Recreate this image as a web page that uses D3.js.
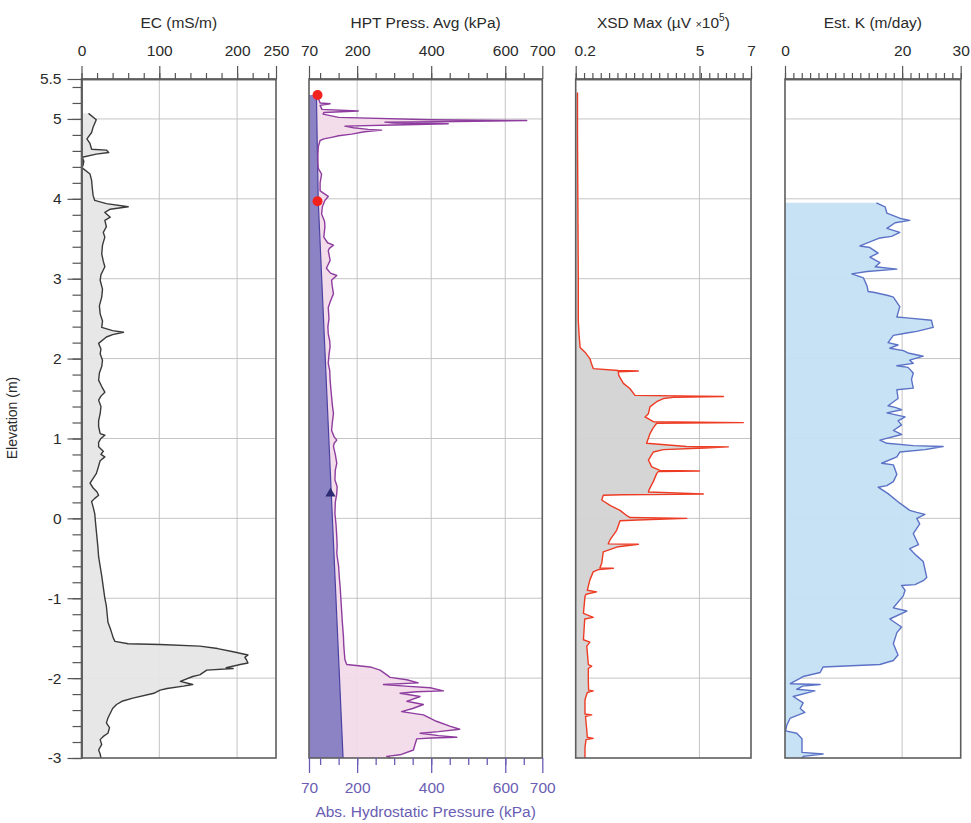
<!DOCTYPE html>
<html lang="en">
<head>
<meta charset="UTF-8">
<title>Direct-push log</title>
<script src="https://d3js.org/d3.v7.min.js"></script>
<style>
  body { margin: 0; background: #fff; }
  text { font-family: "Liberation Sans", Arial, sans-serif; font-size: 15.5px; fill: #2a2a2a; }
</style>
</head>
<body>
<script>
// elevation (m), value
const ecProfile = [[5.07,9],[4.99,19],[4.9,15],[4.83,13],[4.75,7],[4.69,11],[4.62,13],[4.61,32],[4.58,35],[4.56,19],[4.52,1],[4.47,3],[4.42,2],[4.39,0.5],[4.31,11],[4.23,13],[4.12,14],[4.04,15],[3.98,17],[3.94,32],[3.9,60],[3.87,37],[3.83,30],[3.77,37],[3.73,30],[3.65,32],[3.58,28],[3.52,30],[3.42,27],[3.31,26],[3.22,28],[3.15,30],[3.05,25],[2.98,24],[2.87,27],[2.77,26],[2.66,23],[2.56,24],[2.47,27],[2.39,26],[2.35,40],[2.33,54],[2.3,40],[2.27,32],[2.19,22],[2.12,25],[2.06,24],[1.98,27],[1.9,26],[1.82,23],[1.73,22],[1.65,26],[1.58,30],[1.53,25],[1.48,22],[1.4,25],[1.31,24],[1.22,22],[1.15,22],[1.06,24],[1.04,30],[1.0,25],[0.95,22],[0.895,22],[0.84,28],[0.8,25],[0.77,30],[0.72,24],[0.69,23],[0.62,21],[0.56,19],[0.5,15],[0.44,11],[0.38,15],[0.33,20],[0.29,22],[0.25,17],[0.21,13],[0.14,15],[0.06,17],[-0.05,18],[-0.15,19],[-0.25,20],[-0.35,21],[-0.48,22],[-0.6,24],[-0.72,26],[-0.86,28],[-1.0,30],[-1.1,32],[-1.2,33],[-1.3,34],[-1.38,37],[-1.44,39],[-1.5,41],[-1.54,43],[-1.57,60],[-1.58,101],[-1.6,152],[-1.63,175],[-1.67,195],[-1.71,214],[-1.74,210],[-1.77,212],[-1.81,214],[-1.83,204],[-1.87,186],[-1.88,195],[-1.9,161],[-1.96,152],[-1.98,143],[-2.04,127],[-2.08,143],[-2.1,131],[-2.13,110],[-2.15,101],[-2.19,93],[-2.25,66],[-2.29,52],[-2.33,45],[-2.38,40],[-2.44,37],[-2.5,34],[-2.56,32],[-2.62,36],[-2.69,34],[-2.73,28],[-2.77,24],[-2.83,26],[-2.9,22],[-2.95,24],[-3.0,25]];

const hptProfile = [[5.3,93],[5.25,96],[5.2,100],[5.19,127],[5.17,100],[5.12,105],[5.1,203],[5.08,110],[5.06,108],[5.02,150],[4.99,400],[4.98,658],[4.965,420],[4.96,275],[4.95,300],[4.94,446],[4.925,300],[4.91,167],[4.89,190],[4.87,230],[4.86,266],[4.84,220],[4.81,185],[4.79,150],[4.77,131],[4.75,110],[4.73,100],[4.65,95],[4.55,94],[4.45,94],[4.38,95],[4.31,104],[4.2,100],[4.1,100],[4.03,122],[3.98,113],[3.9,106],[3.81,104],[3.72,112],[3.65,113],[3.52,110],[3.45,120],[3.42,136],[3.38,125],[3.35,122],[3.28,125],[3.23,127],[3.13,117],[3.07,128],[3.04,145],[3.0,135],[2.98,131],[2.9,133],[2.81,136],[2.72,128],[2.64,122],[2.5,124],[2.4,121],[2.31,122],[2.22,126],[2.15,127],[2.05,124],[1.94,122],[1.85,126],[1.73,127],[1.62,129],[1.52,131],[1.42,133],[1.31,136],[1.2,133],[1.1,131],[1.02,138],[0.98,145],[0.94,138],[0.9,136],[0.8,141],[0.69,145],[0.6,141],[0.48,140],[0.4,146],[0.31,145],[0.2,141],[0.06,140],[-0.08,143],[-0.23,145],[-0.35,146],[-0.44,145],[-0.6,150],[-0.75,152],[-0.85,154],[-1.0,156],[-1.15,158],[-1.3,160],[-1.48,163],[-1.6,164],[-1.77,167],[-1.83,172],[-1.86,235],[-1.9,262],[-1.96,280],[-1.99,289],[-2.02,334],[-2.06,365],[-2.08,271],[-2.1,330],[-2.12,397],[-2.16,433],[-2.17,360],[-2.19,316],[-2.23,370],[-2.29,334],[-2.33,379],[-2.38,350],[-2.42,320],[-2.46,379],[-2.54,414],[-2.6,450],[-2.64,477],[-2.67,420],[-2.69,370],[-2.72,420],[-2.74,469],[-2.75,400],[-2.76,361],[-2.85,355],[-2.9,352],[-2.96,316],[-2.98,280],[-3.0,290]];

const hydroProfile = [[5.3,90],[3.97,95],[-3,162]];
const hptDots = [[5.3,93],[3.97,93]];
const hptTriangle = [[0.31,128]];

const xsdProfile = [[5.33,0.27],[4.8,0.27],[4.2,0.28],[3.6,0.29],[3.0,0.3],[2.73,0.3],[2.48,0.3],[2.3,0.33],[2.14,0.37],[2.08,0.56],[2.0,0.75],[1.93,0.82],[1.875,0.88],[1.85,1.85],[1.845,2.63],[1.835,1.85],[1.79,1.87],[1.69,2.05],[1.625,2.3],[1.54,2.5],[1.525,5.93],[1.515,4.0],[1.5,3.6],[1.46,3.34],[1.395,3.08],[1.31,3.02],[1.27,2.89],[1.21,3.21],[1.198,6.7],[1.19,3.34],[1.13,3.2],[1.06,3.08],[0.94,2.95],[0.9,4.5],[0.895,6.12],[0.88,5.2],[0.86,3.6],[0.83,3.21],[0.73,3.02],[0.645,3.15],[0.6,3.47],[0.593,5.0],[0.585,3.4],[0.56,3.34],[0.46,3.21],[0.36,3.05],[0.33,3.02],[0.305,5.15],[0.295,2.0],[0.29,1.27],[0.23,1.21],[0.16,1.55],[0.1,1.92],[0.03,2.2],[0.01,2.31],[0.0,4.51],[-0.02,2.6],[-0.03,1.92],[-0.15,1.79],[-0.27,1.53],[-0.32,1.46],[-0.325,2.63],[-0.355,1.85],[-0.42,1.27],[-0.56,1.21],[-0.62,1.14],[-0.625,1.66],[-0.64,1.1],[-0.67,0.88],[-0.77,0.75],[-0.9,0.65],[-0.92,1.01],[-0.95,0.6],[-0.98,0.56],[-1.19,0.5],[-1.24,0.88],[-1.26,0.55],[-1.52,0.5],[-1.55,0.75],[-1.6,0.63],[-1.83,0.69],[-1.85,0.82],[-1.88,0.69],[-2.04,0.69],[-2.15,0.7],[-2.16,0.88],[-2.18,0.65],[-2.27,0.56],[-2.45,0.56],[-2.46,0.82],[-2.48,0.58],[-2.65,0.63],[-2.74,0.65],[-2.755,0.88],[-2.77,0.6],[-2.87,0.56],[-3.0,0.56]];

const kProfile = [[3.95,15.6],[3.9,17.1],[3.82,17.4],[3.75,19.9],[3.73,21.3],[3.7,18.8],[3.63,17.4],[3.58,19.6],[3.53,18.2],[3.51,16.2],[3.41,12.8],[3.39,14.5],[3.32,15.9],[3.27,14.5],[3.2,16.2],[3.15,15.4],[3.12,19.1],[3.09,14],[3.06,11.4],[3.01,13.4],[2.91,14],[2.84,14.2],[2.83,15.1],[2.79,17.6],[2.77,18.5],[2.65,19.6],[2.52,19.1],[2.51,20.8],[2.48,25],[2.39,25.3],[2.34,22.5],[2.32,20.8],[2.29,18.5],[2.2,17.6],[2.17,19.3],[2.13,17.9],[2.1,20.2],[2.07,21],[2.03,23.6],[1.98,21.3],[1.94,21.9],[1.91,19.1],[1.89,21],[1.82,21.9],[1.74,21.6],[1.63,21.9],[1.61,19.1],[1.5,19.3],[1.41,17.6],[1.39,18.8],[1.36,19.9],[1.32,17.4],[1.27,20.5],[1.22,19.3],[1.17,19.9],[1.1,18.5],[1.05,19.9],[0.98,16.2],[0.94,17.4],[0.91,21.9],[0.9,27],[0.86,23.9],[0.83,19.6],[0.77,19.1],[0.69,16.5],[0.67,18.5],[0.55,19.1],[0.46,18.5],[0.41,17.4],[0.39,15.9],[0.31,17.6],[0.19,19.6],[0.1,21.3],[0.075,22.5],[0.05,23.9],[0.0,22.5],[-0.07,23],[-0.19,21.9],[-0.33,22.8],[-0.38,21.3],[-0.47,22.5],[-0.54,23.6],[-0.74,24.2],[-0.78,23.6],[-0.83,22.2],[-0.84,19.9],[-0.9,20.5],[-0.97,20.2],[-1.12,18.5],[-1.16,20.8],[-1.26,17.9],[-1.36,19.9],[-1.43,19.1],[-1.57,18.5],[-1.71,19.3],[-1.78,18.5],[-1.83,16.2],[-1.86,6.5],[-1.93,6],[-1.98,3.1],[-2.07,0.9],[-2.08,6],[-2.1,3],[-2.14,2],[-2.16,5.1],[-2.23,1.4],[-2.31,3.1],[-2.38,2.6],[-2.43,3.4],[-2.5,0.9],[-2.59,0.3],[-2.66,0.1],[-2.69,2],[-2.76,2.9],[-2.93,2.9],[-2.95,6.5],[-2.98,3.1],[-3.0,3]];

// axis ticks
const elevLabels = [5.5, 5, 4, 3, 2, 1, 0, -1, -2, -3];
const elevGrid = [5, 4, 3, 2, 1, 0, -1, -2];
const ecTicks = [0, 100, 200, 250];
const hptTicks = [70, 200, 400, 600, 700];
const xsdTicks = [0.2, 5, 7];
const kTicks = [0, 20, 30];

const W = 971, H = 823;
const FONT = '"Liberation Sans", Arial, sans-serif';
const fmt = d => String(+(+d).toFixed(2));
const svg = d3.select("body").append("svg").attr("width", W).attr("height", H);

const y = d3.scaleLinear().domain([5.5, -3]).range([79, 758]);

const panels = [
  { key: "ec", title: "EC (mS/m)", domain: [0, 250], range: [81.5, 276], ticks: ecTicks,
    minor: d3.range(0, 251, 20), grid: [100, 200], data: ecProfile, base: 0,
    fill: "#e6e6e6", stroke: "#3a3a3a" },
  { key: "hpt", title: "HPT Press. Avg (kPa)", domain: [70, 700], range: [309, 542.3], ticks: hptTicks,
    minor: d3.range(100, 700, 50), grid: [200, 400, 600], data: hptProfile, base: 70,
    fill: "#f3dbea", stroke: "#8e3d9f" },
  { key: "xsd", title: null, domain: [0.2, 7], range: [575.7, 751], ticks: xsdTicks,
    minor: d3.range(0, 22).map(i => 0.2 + i * 6.8 / 21), grid: [5], data: xsdProfile, base: 0.2,
    fill: "#d3d3d3", stroke: "#ee3b24" },
  { key: "k", title: "Est. K (m/day)", domain: [0, 30], range: [785, 960.7], ticks: kTicks,
    minor: d3.range(0, 22).map(i => i * 30 / 21), grid: [20], data: kProfile, base: 0,
    fill: "#c4e0f3", stroke: "#5b72c6" }
];

const defs = svg.append("defs");

function styleTicks(sel, color) {
  sel.selectAll(".tick text").style("font-size", "15.5px").style("fill", color)
    .style("font-family", FONT);
}

panels.forEach(p => {
  const x = d3.scaleLinear().domain(p.domain).range(p.range);
  p.x = x;
  const g = svg.append("g");
  const [x0, x1] = p.range;

  defs.append("clipPath").attr("id", "clip-" + p.key)
    .append("rect").attr("x", x0).attr("y", y(5.5)).attr("width", x1 - x0).attr("height", y(-3) - y(5.5));

  // grid
  g.selectAll(".hg").data(elevGrid).join("line")
    .attr("x1", x0).attr("x2", x1).attr("y1", d => y(d)).attr("y2", d => y(d))
    .attr("stroke", "#c4c4c4").attr("stroke-width", 1);
  g.selectAll(".vg").data(p.grid).join("line")
    .attr("x1", d => x(d)).attr("x2", d => x(d)).attr("y1", y(5.5)).attr("y2", y(-3))
    .attr("stroke", "#c4c4c4").attr("stroke-width", 1);

  const plot = g.append("g").attr("clip-path", `url(#clip-${p.key})`);

  plot.append("path").datum(p.data)
    .attr("d", d3.area().y(d => y(d[0])).x0(x(p.base)).x1(d => x(d[1])))
    .attr("fill", p.fill).attr("opacity", 0.95);

  if (p.key === "hpt") {
    plot.append("path").datum(hydroProfile)
      .attr("d", d3.area().y(d => y(d[0])).x0(x(70)).x1(d => x(d[1])))
      .attr("fill", "#8b83c3");
    plot.append("path").datum(hydroProfile)
      .attr("d", d3.line().y(d => y(d[0])).x(d => x(d[1])))
      .attr("fill", "none").attr("stroke", "#4b41a3").attr("stroke-width", 1.2);
  }

  plot.append("path").datum(p.data)
    .attr("d", d3.line().y(d => y(d[0])).x(d => x(d[1])))
    .attr("fill", "none").attr("stroke", p.stroke).attr("stroke-width", 1.4)
    .attr("stroke-linejoin", "round");

  if (p.key === "hpt") {
    g.selectAll(".dot").data(hptDots).join("circle")
      .attr("cx", d => x(d[1])).attr("cy", d => y(d[0])).attr("r", 5)
      .attr("fill", "#f2221e");
    g.selectAll(".tri").data(hptTriangle).join("path")
      .attr("transform", d => `translate(${x(d[1])},${y(d[0])})`)
      .attr("d", d3.symbol().type(d3.symbolTriangle).size(45))
      .attr("fill", "#2b2a72");
  }

  // border
  g.append("rect").attr("x", x0).attr("y", y(5.5)).attr("width", x1 - x0).attr("height", y(-3) - y(5.5))
    .attr("fill", "none").attr("stroke", "#5e5e5e").attr("stroke-width", 1.6);

  // top axis
  const top = g.append("g").attr("transform", `translate(0,${y(5.5)})`);
  top.call(d3.axisTop(x).tickValues(p.minor).tickSize(6).tickSizeOuter(0).tickFormat(""));
  top.append("g").call(d3.axisTop(x).tickValues(p.ticks).tickSize(13).tickSizeOuter(0).tickPadding(10)
    .tickFormat(fmt));
  top.selectAll("path.domain").attr("stroke", "#5e5e5e").attr("stroke-width", 1.6);
  top.selectAll(".tick line").attr("stroke", "#555").attr("stroke-width", 1.2);
  styleTicks(top, "#2a2a2a");
  if (p.key === "xsd") {
    top.selectAll(".tick text").filter(d => d === 0.2).attr("dx", 9);
  }

  if (p.title) {
    svg.append("text").attr("x", (x0 + x1) / 2).attr("y", 28).attr("text-anchor", "middle")
      .text(p.title);
  }
});

// XSD title with superscript
const xsd = panels[2];
const xt = svg.append("text").attr("x", (xsd.range[0] + xsd.range[1]) / 2).attr("y", 28).attr("text-anchor", "middle");
xt.append("tspan").text("XSD Max (µV ");
xt.append("tspan").style("font-size", "11px").text("×");
xt.append("tspan").text("10");
xt.append("tspan").attr("dy", -7).style("font-size", "10px").text("5");
xt.append("tspan").attr("dy", 7).text(")");

// bottom hydrostatic axis
const hpt = panels[1];
const purple = "#6a5db3";
const bot = svg.append("g").attr("transform", `translate(0,${y(-3)})`);
bot.call(d3.axisBottom(hpt.x).tickValues(hpt.minor).tickSize(7).tickSizeOuter(0).tickFormat(""));
bot.append("g").call(d3.axisBottom(hpt.x).tickValues(hptTicks).tickSize(15).tickSizeOuter(0).tickPadding(9).tickFormat(fmt));
bot.selectAll("path.domain").remove();
bot.selectAll(".tick line").attr("stroke", purple).attr("stroke-width", 1.3);
styleTicks(bot, purple);
svg.append("text").attr("x", (hpt.range[0] + hpt.range[1]) / 2).attr("y", 817).attr("text-anchor", "middle")
  .style("fill", purple).text("Abs. Hydrostatic Pressure (kPa)");

// elevation axis
const left = svg.append("g").attr("transform", `translate(${panels[0].range[0]},0)`);
left.call(d3.axisLeft(y).tickValues(d3.range(-3, 5.51, 0.2).map(v => +v.toFixed(1))).tickSize(9).tickSizeOuter(0).tickFormat(""));
left.append("g").call(d3.axisLeft(y).tickValues(elevLabels).tickSize(14).tickSizeOuter(0).tickPadding(6).tickFormat(fmt));
left.selectAll("path.domain").attr("stroke", "#5e5e5e").attr("stroke-width", 1.6);
left.selectAll(".tick line").attr("stroke", "#555").attr("stroke-width", 1.2);
styleTicks(left, "#2a2a2a");

svg.append("text").attr("transform", `translate(17,418) rotate(-90)`)
  .attr("text-anchor", "middle").style("font-size", "14px").text("Elevation (m)");
</script>
</body>
</html>
